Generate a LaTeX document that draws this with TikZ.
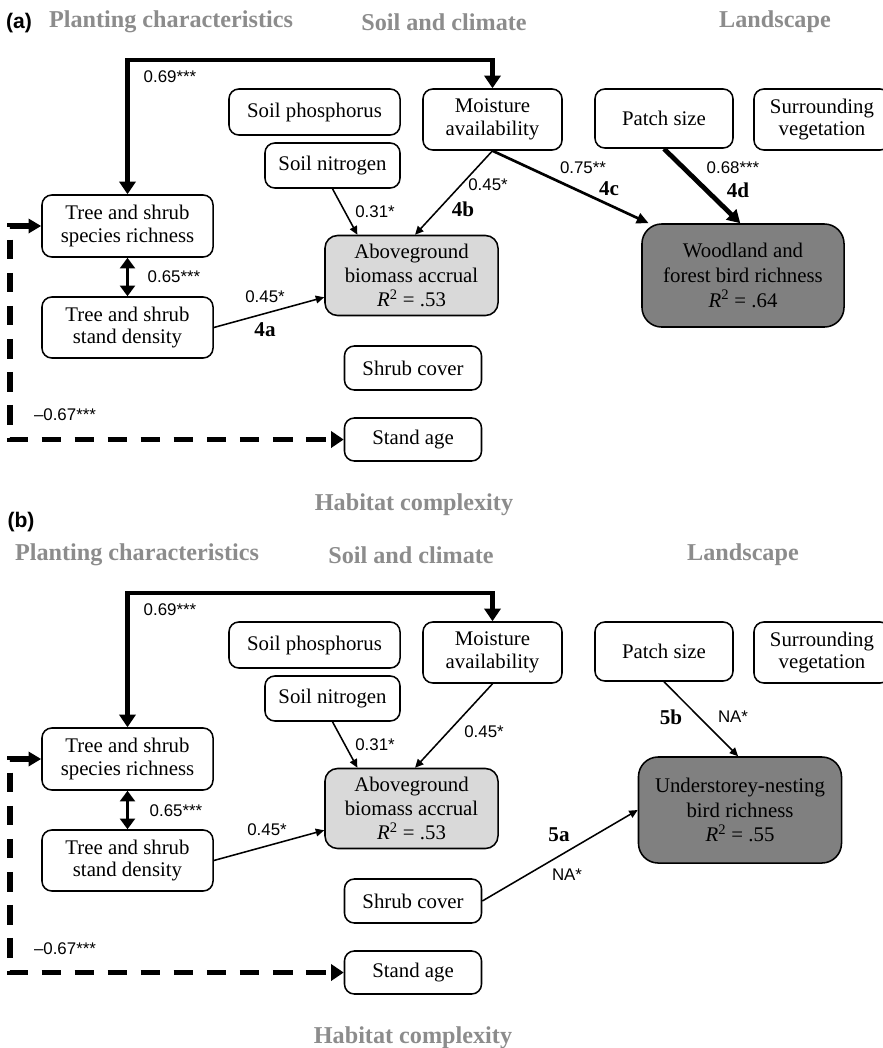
\documentclass[tikz,border=0pt]{standalone}
\usepackage{fontspec}
\setmainfont{Liberation Serif}
\newfontfamily\coeffont{Liberation Sans}
\usetikzlibrary{arrows.meta}
\definecolor{headgray}{HTML}{8C8C8C}
\definecolor{lightfill}{HTML}{D9D9D9}
\definecolor{darkfill}{HTML}{808080}
\tikzset{
  var/.style={draw,line width=1.1pt,rounded corners=7pt,align=center,inner sep=0pt,
    font=\fontsize{14.8}{16}\selectfont},
  resp/.style={var,rounded corners=9pt,fill=lightfill,font=\fontsize{14.8}{17}\selectfont},
  bird/.style={var,rounded corners=14pt,fill=darkfill,font=\fontsize{14.8}{17.5}\selectfont},
  head/.style={text=headgray,font=\bfseries\fontsize{17.2}{17.2}\selectfont},
  panel/.style={font=\coeffont\bfseries\fontsize{15}{15}\selectfont},
  coef/.style={font=\coeffont\fontsize{12}{12}\selectfont,inner sep=0pt},
  hyp/.style={font=\bfseries\fontsize{15}{15}\selectfont,inner sep=0pt},
  pweak/.style={line width=1.1pt,-{Triangle[length=6pt,width=5.5pt]}},
  pmid/.style={line width=1.9pt,-{Triangle[length=8.5pt,width=7.5pt]}},
  pstrong/.style={line width=3.4pt,-{Triangle[length=9pt,width=10pt]}},
  toplink/.style={line width=2.9pt,{Triangle[length=9pt,width=11.5pt]}-{Triangle[length=9pt,width=11.5pt]}},
  twoway/.style={line width=2.8pt,{Triangle[length=7.5pt,width=10.5pt]}-{Triangle[length=7.5pt,width=10.5pt]}},
  dashlink/.style={line width=3.6pt,dash pattern=on 14pt off 9.5pt,
    {Triangle[length=9pt,width=10pt]}-{Triangle[length=9pt,width=11.5pt]}}
}
\begin{document}
\begin{tikzpicture}[x=0.025cm,y=-0.025cm]
\useasboundingbox (0,0) rectangle (883,1048);
%panel a
        \node[panel] (pa) at (19,23) {(a)};
        \node[head] (plant1) at (171,22) {Planting characteristics};
        \node[head] (soil1) at (444,22) {Soil and climate};
        \node[head] (land1) at (775,22) {Landscape};
        \node[head] (habit1) at (414,505) {Habitat complexity};

        \node[var,minimum width=4.275cm,minimum height=1.15cm] (phos1) at (314.5,112) {Soil phosphorus};
        \node[var,minimum width=3.375cm,minimum height=1.125cm] (nitro1) at (332.5,165.5) {Soil nitrogen};
        \node[var,minimum width=3.475cm,minimum height=1.525cm] (moist1) at (492.5,119.5) {Moisture\\availability};
        \node[var,minimum width=3.45cm,minimum height=1.475cm] (patch1) at (664,118.5) {Patch size};
        \node[var,minimum width=3.4cm,minimum height=1.525cm] (surr1) at (822,119.5) {Surrounding\\vegetation};
        \node[var,minimum width=4.275cm,minimum height=1.55cm] (rich1) at (127.5,226) {Tree and shrub\\species richness};
        \node[var,minimum width=4.275cm,minimum height=1.525cm] (dens1) at (127.5,327.5) {Tree and shrub\\stand density};
        \node[resp,minimum width=4.325cm,minimum height=2cm] (bio1) at (411.5,275.5) {Aboveground\\biomass accrual\\\textit{R}\textsuperscript{2} = .53};
        \node[bird,minimum width=5.05cm,minimum height=2.575cm] (wood1) at (743,275.5) {Woodland and\\forest bird richness\\\textit{R}\textsuperscript{2} = .64};
        \node[var,minimum width=3.425cm,minimum height=1.1cm] (shrub1) at (413,368) {Shrub cover};
        \node[var,minimum width=3.425cm,minimum height=1.075cm] (age1) at (413,439.5) {Stand age};
        \coordinate (top1) at (300,60);
        \coordinate (side1) at (10,300);

        \draw [toplink] (rich1.north) |- (top1) -| (moist1.north);
        \draw [twoway] (rich1.south) -- (dens1.north);
        \draw [dashlink] (rich1.west) -- (rich1.west -| side1) |- (age1.west);
        \draw [pweak] (dens1.east) -- (bio1.194);
        \draw [pweak] (nitro1.south) -- (bio1.143);
        \draw [pweak] (moist1.south) -- (bio1.85);
        \draw [pmid] (moist1.south) -- (wood1.151);
        \draw [pstrong] (patch1.south) -- (wood1.93);

        \node[coef] (c691) at (170,77) {0.69***};
        \node[coef] (c651) at (174,277) {0.65***};
        \node[coef] (c45a1) at (265,297) {0.45*};
        \node[hyp] (h4a) at (265,330) {4a};
        \node[coef] (c311) at (375,212) {0.31*};
        \node[coef] (c45b1) at (488,185) {0.45*};
        \node[hyp] (h4b) at (463,209) {4b};
        \node[coef] (c751) at (583,168) {0.75**};
        \node[hyp] (h4c) at (609,189) {4c};
        \node[coef] (c681) at (733,168) {0.68***};
        \node[hyp] (h4d) at (738,190) {4d};
        \node[coef] (c671) at (65,415) {–0.67***};

%panel b
        \node[panel] (pb) at (21,522) {(b)};
        \node[head] (plant2) at (137,555) {Planting characteristics};
        \node[head] (soil2) at (411,555) {Soil and climate};
        \node[head] (land2) at (743,555) {Landscape};
        \node[head] (habit2) at (413,1038) {Habitat complexity};

        \node[var,minimum width=4.275cm,minimum height=1.15cm] (phos2) at (314.5,645) {Soil phosphorus};
        \node[var,minimum width=3.375cm,minimum height=1.125cm] (nitro2) at (332.5,698.5) {Soil nitrogen};
        \node[var,minimum width=3.475cm,minimum height=1.525cm] (moist2) at (492.5,652.5) {Moisture\\availability};
        \node[var,minimum width=3.45cm,minimum height=1.475cm] (patch2) at (664,651.5) {Patch size};
        \node[var,minimum width=3.4cm,minimum height=1.525cm] (surr2) at (822,652.5) {Surrounding\\vegetation};
        \node[var,minimum width=4.275cm,minimum height=1.55cm] (rich2) at (127.5,759) {Tree and shrub\\species richness};
        \node[var,minimum width=4.275cm,minimum height=1.525cm] (dens2) at (127.5,860.5) {Tree and shrub\\stand density};
        \node[resp,minimum width=4.325cm,minimum height=2cm] (bio2) at (411.5,808.5) {Aboveground\\biomass accrual\\\textit{R}\textsuperscript{2} = .53};
        \node[bird,minimum width=5.075cm,minimum height=2.65cm] (under2) at (740,810) {Understorey-nesting\\bird richness\\\textit{R}\textsuperscript{2} = .55};
        \node[var,minimum width=3.425cm,minimum height=1.1cm] (shrub2) at (413,901) {Shrub cover};
        \node[var,minimum width=3.425cm,minimum height=1.075cm] (age2) at (413,972.5) {Stand age};
        \coordinate (top2) at (300,593);
        \coordinate (side2) at (10,850);

        \draw [toplink] (rich2.north) |- (top2) -| (moist2.north);
        \draw [twoway] (rich2.south) -- (dens2.north);
        \draw [dashlink] (rich2.west) -- (rich2.west -| side2) |- (age2.west);
        \draw [pweak] (dens2.east) -- (bio2.194);
        \draw [pweak] (nitro2.south) -- (bio2.143);
        \draw [pweak] (moist2.south) -- (bio2.85);
        \draw [pweak] (patch2.south) -- (under2.92);
        \draw [pweak] (shrub2.east) -- (under2.west);

        \node[coef] (c692) at (170,610) {0.69***};
        \node[coef] (c652) at (176,811) {0.65***};
        \node[coef] (c45a2) at (267,830) {0.45*};
        \node[coef] (c312) at (375,745) {0.31*};
        \node[coef] (c45b2) at (484,732) {0.45*};
        \node[hyp] (h5b) at (671,717) {5b};
        \node[coef] (na5b) at (733,717) {NA*};
        \node[hyp] (h5a) at (559,835) {5a};
        \node[coef] (na5a) at (567,875) {NA*};
        \node[coef] (c672) at (65,949) {–0.67***};
\end{tikzpicture}
\end{document}
